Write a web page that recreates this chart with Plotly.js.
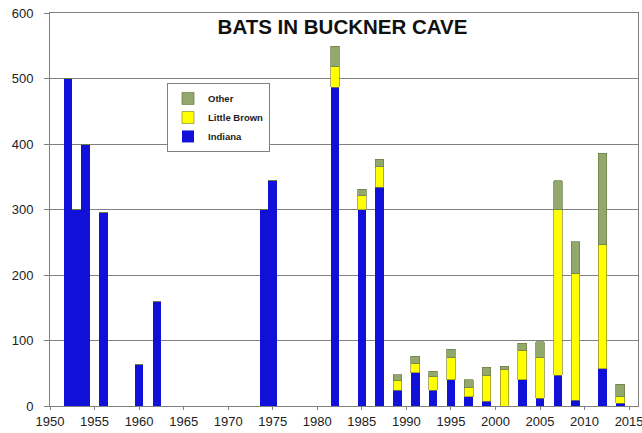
<!DOCTYPE html>
<html>
<head>
<meta charset="utf-8">
<script src="https://cdn.plot.ly/plotly-3.0.1.min.js"></script>
<style>
  html, body { margin: 0; padding: 0; background: #ffffff; }
  #chart { width: 642px; height: 433px; }
</style>
</head>
<body>
<div id="chart"></div>
<script>
// Survey years
const years = [1952, 1953, 1954, 1956, 1960, 1962, 1974, 1975, 1982, 1985, 1987, 1989,
               1991, 1993, 1995, 1997, 1999, 2001, 2003, 2005, 2007, 2009, 2012, 2014];
// Bat counts by species
const indiana     = [500, 300, 400, 295, 63, 160, 300, 345, 487, 300, 334, 24,
                     51, 24, 40, 14, 7, 0, 40, 12, 47, 9, 57, 4];
const littleBrown = [0, 0, 0, 0, 0, 0, 0, 0, 31, 21, 31, 15,
                     14, 21, 34, 14, 40, 56, 45, 62, 253, 193, 189, 10];
const other       = [0, 0, 0, 0, 0, 0, 0, 0, 31, 10, 12, 9,
                     11, 8, 13, 12, 12, 5, 11, 24, 44, 49, 140, 19];
const xTickVals = [1950, 1955, 1960, 1965, 1970, 1975, 1980, 1985, 1990, 1995, 2000, 2005, 2010, 2015];
const yTickVals = [0, 100, 200, 300, 400, 500, 600];

const FONT = '"Liberation Sans", Arial, sans-serif';

const traces = [
  { type: 'bar', name: 'Indiana', x: years, y: indiana, width: 0.97,
    marker: { color: '#1010d8', line: { width: 0 } } },
  { type: 'bar', name: 'Little Brown', x: years, y: littleBrown, width: 0.97,
    marker: { color: '#ffff00', line: { width: 0.7, color: '#8a8a30' } } },
  { type: 'bar', name: 'Other', x: years, y: other, width: 0.97,
    marker: { color: '#93a86c', line: { width: 0.7, color: '#6b7a45' } } }
];

const layout = {
  width: 642, height: 433,
  margin: { l: 50, r: 4, t: 13, b: 27, pad: 0 },
  paper_bgcolor: '#ffffff', plot_bgcolor: '#ffffff',
  barmode: 'stack', bargap: 0,
  font: { family: FONT, size: 12, color: '#222222' },
  title: {
    text: '<b>BATS IN BUCKNER CAVE</b>',
    font: { family: FONT, size: 20.5, color: '#111111' },
    x: 342.5 / 642, xanchor: 'center', xref: 'container',
    y: 1 - 27 / 433, yanchor: 'middle', yref: 'container'
  },
  xaxis: {
    range: [1950, 2016], tickvals: xTickVals, ticktext: xTickVals.map(String),
    showgrid: false, zeroline: false,
    showline: true, linecolor: '#808080', linewidth: 1, mirror: true,
    ticks: 'outside', ticklen: 3, tickcolor: '#808080',
    ticklabeloverflow: 'allow',
    tickfont: { family: FONT, size: 13, color: '#222222' }
  },
  yaxis: {
    range: [0, 600], tickvals: yTickVals, ticktext: yTickVals.map(String),
    showgrid: true, gridcolor: '#808080', gridwidth: 1, zeroline: false,
    showline: true, linecolor: '#808080', linewidth: 1, mirror: true,
    ticks: 'outside', ticklen: 5, tickcolor: '#808080',
    ticklabelstandoff: 8,
    tickfont: { family: FONT, size: 13, color: '#222222' }
  },
  showlegend: true,
  legend: {
    x: 0.199, y: 0.822, xanchor: 'left', yanchor: 'top',
    traceorder: 'reversed',
    bgcolor: '#ffffff', bordercolor: '#808080', borderwidth: 1,
    font: { family: FONT, size: 9.5, color: '#222222', weight: 'bold' },
    itemwidth: 30, tracegroupgap: 0
  }
};

Plotly.newPlot('chart', traces, layout, { staticPlot: true, displayModeBar: false });
</script>
</body>
</html>
